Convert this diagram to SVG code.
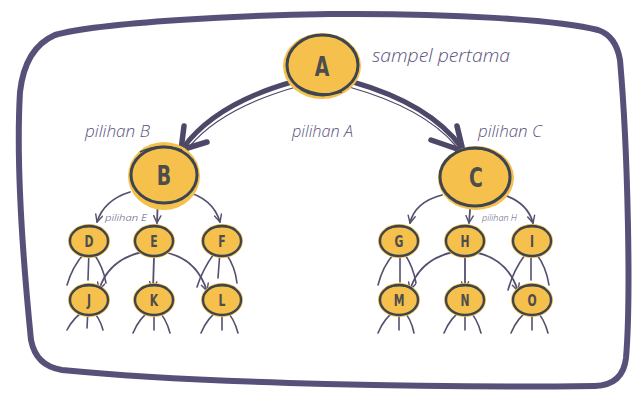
<svg xmlns="http://www.w3.org/2000/svg" width="635" height="395" viewBox="0 0 635 395">
<defs>
<style>
.frame{fill:#fff;stroke:#57517a;stroke-width:6;stroke-linejoin:round}
.fill{fill:#f6c04c}
.ol{fill:none;stroke:#3d4650;stroke-width:2.4}
.olb{fill:none;stroke:#3d4650;stroke-width:3}
.sk{fill:none;stroke:#3d4650;stroke-width:1.5}
.lt{font-family:"DejaVu Sans",sans-serif;font-weight:bold;fill:#4c4d4c;text-anchor:middle}
.hw{font-family:"Open Sans","DejaVu Sans",sans-serif;font-style:italic;font-weight:300;fill:#57527a}
.c{fill:none;stroke:#55506e;stroke-width:1.8;stroke-linecap:round}
.f{fill:none;stroke:#55506e;stroke-width:1.6;stroke-linecap:round}
.big{fill:none;stroke:#4d4868;stroke-width:5;stroke-linecap:round}
.bigl{fill:none;stroke:#4d4868;stroke-width:1.2;stroke-linecap:round}
.head{fill:none;stroke:#4d4868;stroke-width:5.5;stroke-linecap:round;stroke-linejoin:round}
</style>
<marker id="ah" viewBox="0 0 10 10" refX="9" refY="5" markerWidth="9" markerHeight="9" markerUnits="userSpaceOnUse" orient="auto">
<path d="M1,1 L9,5 L1,9" fill="none" stroke="#55506e" stroke-width="1.6" stroke-linecap="round" stroke-linejoin="round"/>
</marker>
</defs>

<path class="frame" d="M55,35 C100,22 250,15 330,14 C450,13 560,20 598,30 Q616,36 620,60 C628,150 631,300 626,358 Q623,385 595,386 C450,388 200,384 62,370 Q36,366 31,340 C23,260 16,160 20,92 Q25,48 55,35 Z"/>

<g id="connectors">
<path class="big" d="M292,82 Q215,104 183,148"/>
<path class="bigl" d="M296,87 Q222,108 190,146"/>
<path class="head" d="M184,126 L181,150 L207,142"/>
<path class="big" d="M353,82 Q430,104 462,148"/>
<path class="bigl" d="M349,87 Q424,108 456,146"/>
<path class="head" d="M457,126 L463,151 L431,140"/>
<path class="c" marker-end="url(#ah)" d="M130,192 Q104,200 97,222"/>
<path class="c" marker-end="url(#ah)" d="M158,196 L157,223"/>
<path class="c" marker-end="url(#ah)" d="M184,191 Q213,198 220,222"/>
<path class="c" marker-end="url(#ah)" d="M442,195 Q415,202 410,223"/>
<path class="c" marker-end="url(#ah)" d="M471,198 L469,223"/>
<path class="c" marker-end="url(#ah)" d="M497,193 Q527,200 533,223"/>
<path class="c" marker-end="url(#ah)" d="M142,252 Q108,260 99,290"/>
<path class="c" marker-end="url(#ah)" d="M154,257 L153,289"/>
<path class="c" marker-end="url(#ah)" d="M168,253 Q197,260 207,291"/>
<path class="c" marker-end="url(#ah)" d="M453,252 Q419,260 410,290"/>
<path class="c" marker-end="url(#ah)" d="M465,257 L465,289"/>
<path class="c" marker-end="url(#ah)" d="M478,253 Q508,260 518,291"/>
<path class="f" d="M88,250 Q74,262 67,285"/><path class="f" d="M89,250 L88,280"/><path class="f" d="M91,250 Q103,265 106,283"/>
<path class="f" d="M216,251 Q203,268 197,287"/><path class="f" d="M220,251 L218,278"/><path class="f" d="M224,251 Q235,265 237,283"/>
<path class="f" d="M398,250 Q384,262 378,285"/><path class="f" d="M400,250 L400,282"/><path class="f" d="M402,250 Q413,265 416,283"/>
<path class="f" d="M528,251 Q514,268 508,290"/><path class="f" d="M531,251 L531,280"/><path class="f" d="M534,251 Q546,265 549,285"/>
<path class="f" d="M86,309 Q73,318 67,330"/><path class="f" d="M88,309 L87,328"/><path class="f" d="M91,309 Q100,318 103,330"/>
<path class="f" d="M152,309 Q139,318 133,333"/><path class="f" d="M154,309 L154,330"/><path class="f" d="M157,309 Q166,318 170,333"/>
<path class="f" d="M220,309 Q207,318 201,333"/><path class="f" d="M222,309 L222,330"/><path class="f" d="M225,309 Q234,318 238,333"/>
<path class="f" d="M397,309 Q384,318 378,333"/><path class="f" d="M399,309 L399,330"/><path class="f" d="M402,309 Q411,318 414,333"/>
<path class="f" d="M463,309 Q450,318 444,333"/><path class="f" d="M465,309 L465,330"/><path class="f" d="M468,309 Q477,318 481,333"/>
<path class="f" d="M530,309 Q517,318 511,333"/><path class="f" d="M532,309 L532,330"/><path class="f" d="M535,309 Q544,318 548,333"/>
</g>

<text class="hw" x="372" y="62" font-size="19" textLength="138" lengthAdjust="spacingAndGlyphs">sampel pertama</text>
<text class="hw" x="85" y="137" font-size="16" textLength="65" lengthAdjust="spacingAndGlyphs">pilihan B</text>
<text class="hw" x="292" y="137" font-size="16" textLength="61" lengthAdjust="spacingAndGlyphs">pilihan A</text>
<text class="hw" x="478" y="137" font-size="16" textLength="64" lengthAdjust="spacingAndGlyphs">pilihan C</text>
<text class="hw" x="105" y="221" font-size="9.5" textLength="42" lengthAdjust="spacingAndGlyphs">pilihan E</text>
<text class="hw" x="482" y="221" font-size="9.5" textLength="35" lengthAdjust="spacingAndGlyphs">pilihan H</text>

<g id="node-A">
<ellipse class="fill" cx="322" cy="66" rx="39" ry="33"/>
<ellipse class="olb" cx="322.5" cy="65" rx="35.5" ry="30"/>
<path class="sk" d="M298,86 Q318,98 342,92"/>
<text class="lt" transform="translate(322,76) scale(0.7,1)" font-size="27">A</text>
</g>
<g id="node-B">
<ellipse class="fill" cx="164" cy="176" rx="36" ry="34"/>
<ellipse class="olb" cx="164" cy="175" rx="33" ry="28"/>
<path class="sk" d="M140,152 Q160,142 182,150"/>
<text class="lt" transform="translate(164,185) scale(0.7,1)" font-size="27">B</text>
</g>
<g id="node-C">
<ellipse class="fill" cx="476" cy="178" rx="38" ry="32"/>
<ellipse class="olb" cx="475" cy="177" rx="35" ry="29"/>
<path class="sk" d="M455,152 Q475,145 492,152"/>
<text class="lt" transform="translate(476,187) scale(0.7,1)" font-size="27">C</text>
</g>
<g id="node-D"><ellipse class="fill" cx="89" cy="241" rx="21" ry="17"/><ellipse class="ol" cx="89" cy="241" rx="19" ry="15"/><path class="sk" d="M76,229 Q90,224 102,229"/><text class="lt" transform="translate(89,246.5) scale(0.72,1)" font-size="15">D</text></g>
<g id="node-E"><ellipse class="fill" cx="154" cy="241" rx="21" ry="17"/><ellipse class="ol" cx="154" cy="241" rx="19" ry="15"/><path class="sk" d="M141,229 Q155,224 167,229"/><text class="lt" transform="translate(154,246.5) scale(0.72,1)" font-size="15">E</text></g>
<g id="node-F"><ellipse class="fill" cx="222" cy="241" rx="21" ry="17"/><ellipse class="ol" cx="222" cy="241" rx="19" ry="15"/><path class="sk" d="M209,229 Q223,224 235,229"/><text class="lt" transform="translate(222,246.5) scale(0.72,1)" font-size="15">F</text></g>
<g id="node-J"><ellipse class="fill" cx="89" cy="300" rx="21" ry="17"/><ellipse class="ol" cx="89" cy="300" rx="19" ry="15"/><path class="sk" d="M76,288 Q90,283 102,288"/><text class="lt" transform="translate(89,305.5) scale(0.72,1)" font-size="15">J</text></g>
<g id="node-K"><ellipse class="fill" cx="154" cy="300" rx="21" ry="17"/><ellipse class="ol" cx="154" cy="300" rx="19" ry="15"/><path class="sk" d="M141,288 Q155,283 167,288"/><text class="lt" transform="translate(154,305.5) scale(0.72,1)" font-size="15">K</text></g>
<g id="node-L"><ellipse class="fill" cx="222" cy="300" rx="21" ry="17"/><ellipse class="ol" cx="222" cy="300" rx="19" ry="15"/><path class="sk" d="M209,288 Q223,283 235,288"/><text class="lt" transform="translate(222,305.5) scale(0.72,1)" font-size="15">L</text></g>
<g id="node-G"><ellipse class="fill" cx="399" cy="241" rx="21" ry="17"/><ellipse class="ol" cx="399" cy="241" rx="19" ry="15"/><path class="sk" d="M386,229 Q400,224 412,229"/><text class="lt" transform="translate(399,246.5) scale(0.72,1)" font-size="15">G</text></g>
<g id="node-H"><ellipse class="fill" cx="465" cy="241" rx="21" ry="17"/><ellipse class="ol" cx="465" cy="241" rx="19" ry="15"/><path class="sk" d="M452,229 Q466,224 478,229"/><text class="lt" transform="translate(465,246.5) scale(0.72,1)" font-size="15">H</text></g>
<g id="node-I"><ellipse class="fill" cx="532" cy="241" rx="21" ry="17"/><ellipse class="ol" cx="532" cy="241" rx="19" ry="15"/><path class="sk" d="M519,229 Q533,224 545,229"/><text class="lt" transform="translate(532,246.5) scale(0.72,1)" font-size="15">I</text></g>
<g id="node-M"><ellipse class="fill" cx="399" cy="300" rx="21" ry="17"/><ellipse class="ol" cx="399" cy="300" rx="19" ry="15"/><path class="sk" d="M386,288 Q400,283 412,288"/><text class="lt" transform="translate(399,305.5) scale(0.72,1)" font-size="15">M</text></g>
<g id="node-N"><ellipse class="fill" cx="465" cy="300" rx="21" ry="17"/><ellipse class="ol" cx="465" cy="300" rx="19" ry="15"/><path class="sk" d="M452,288 Q466,283 478,288"/><text class="lt" transform="translate(465,305.5) scale(0.72,1)" font-size="15">N</text></g>
<g id="node-O"><ellipse class="fill" cx="532" cy="300" rx="21" ry="17"/><ellipse class="ol" cx="532" cy="300" rx="19" ry="15"/><path class="sk" d="M519,288 Q533,283 545,288"/><text class="lt" transform="translate(532,305.5) scale(0.72,1)" font-size="15">O</text></g>
</svg>
